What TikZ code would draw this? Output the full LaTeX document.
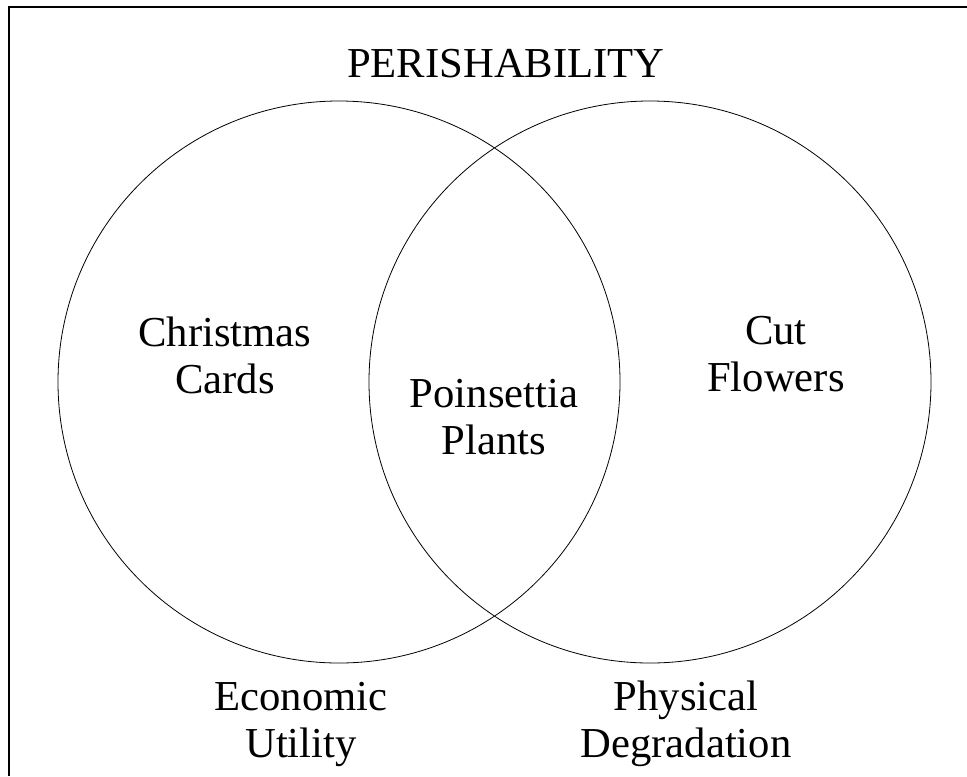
\documentclass[tikz,border=0pt]{standalone}
\usepackage{fontspec}
\setmainfont{Liberation Serif}
\begin{document}
\begin{tikzpicture}[x=0.75pt,y=-0.75pt,
  ring/.style={draw=black,line width=0.6pt},
  frameline/.style={draw=black,line width=1pt},
  title/.style={inner sep=0pt,anchor=base,font=\fontsize{32}{38}\selectfont},
  lbl/.style={inner sep=0pt,anchor=base,font=\fontsize{32}{35.25}\selectfont}]
\useasboundingbox (0,0) rectangle (967,776);
% frame (top and left edges)
\coordinate (fTL) at (9,7);
\coordinate (fTR) at (967,7);
\coordinate (fBL) at (9,776);
\draw[frameline] (fTR) -- (fTL) -- (fBL);
% circles
\coordinate (cL) at (339,382);
\coordinate (cR) at (650,382);
\draw[ring] (cL) circle[radius=210.75pt];
\draw[ring] (cR) circle[radius=210.75pt];
% labels
\node[title] (tPer) at (506,77) {PERISHABILITY};
\node[lbl] (tXmas) at (225,346) {\begin{tabular}[t]{@{}c@{}}Christmas\\Cards\end{tabular}};
\node[lbl] (tPoin) at (494,407) {\begin{tabular}[t]{@{}c@{}}Poinsettia\\Plants\end{tabular}};
\node[lbl] (tCut) at (776,344) {\begin{tabular}[t]{@{}c@{}}Cut\\Flowers\end{tabular}};
\node[lbl] (tEcon) at (301,710) {\begin{tabular}[t]{@{}c@{}}Economic\\Utility\end{tabular}};
\node[lbl] (tPhys) at (686,710) {\begin{tabular}[t]{@{}c@{}}Physical\\Degradation\end{tabular}};
\end{tikzpicture}
\end{document}
